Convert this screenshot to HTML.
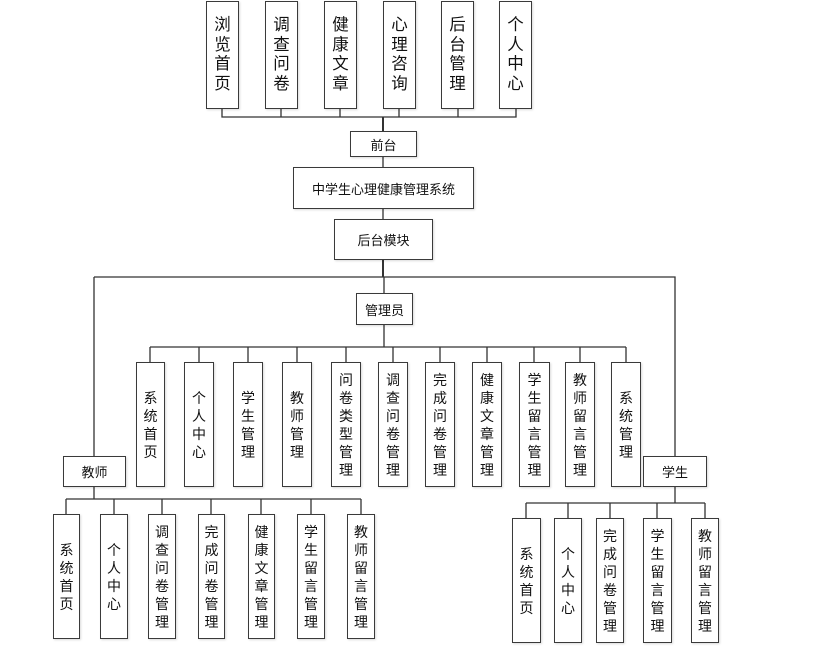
<!DOCTYPE html>
<html><head><meta charset="utf-8"><style>
body{margin:0;width:824px;height:658px;background:#fff;position:relative;overflow:hidden;font-family:"Liberation Sans","Noto Sans CJK SC",sans-serif;color:#111}
.b{position:absolute;box-sizing:border-box;border:1.5px solid #3a3a3a;background:#fff;display:flex;align-items:center;justify-content:center;box-shadow:1px 1px 2px rgba(0,0,0,.15)}
.v span{display:block;width:1em;font-size:14px;line-height:18px;text-align:center;word-break:break-all}
.t span{font-size:16.5px;line-height:19.5px;width:1em}
.h{font-size:13px}
svg{position:absolute;left:0;top:0}
</style></head><body>
<svg width="824" height="658" stroke="#333" fill="none">
<g stroke-width="1.3">
<path d="M222 109V117H516V109M281 109V117M340 109V117M399 109V117M458 109V117"/>
<path d="M383 117V131M383 157V167M383 209V219"/>
<path d="M383 260V277M94 277H675V456M94 277V456M384 277V293"/>
<path d="M384 325V347M150 347H626M150 347V362M199 347V362M248 347V362M297 347V362M346 347V362M393 347V362M440 347V362M487 347V362M534 347V362M580 347V362M626 347V362"/>
<path d="M94 487V499M66 499H361M66 499V514M114 499V514M162 499V514M211 499V514M261 499V514M311 499V514M361 499V514"/>
<path d="M675 487V503M526 503H705M526 503V518M568 503V518M610 503V518M657 503V518M705 503V518"/>
</g>
<path d="M383 117V131M383 260V277" stroke-width="2"/>
</svg>
<div class="b v t" style="left:206px;top:1px;width:33px;height:108px"><span>浏览首页</span></div>
<div class="b v t" style="left:265px;top:1px;width:33px;height:108px"><span>调查问卷</span></div>
<div class="b v t" style="left:324px;top:1px;width:33px;height:108px"><span>健康文章</span></div>
<div class="b v t" style="left:383px;top:1px;width:33px;height:108px"><span>心理咨询</span></div>
<div class="b v t" style="left:441px;top:1px;width:33px;height:108px"><span>后台管理</span></div>
<div class="b v t" style="left:499px;top:1px;width:33px;height:108px"><span>个人中心</span></div>
<div class="b h" style="left:350px;top:131px;width:67px;height:26px">前台</div>
<div class="b h" style="left:293px;top:167px;width:181px;height:42px">中学生心理健康管理系统</div>
<div class="b h" style="left:334px;top:219px;width:99px;height:41px">后台模块</div>
<div class="b h" style="left:356px;top:293px;width:57px;height:32px">管理员</div>
<div class="b v" style="left:136px;top:362px;width:29px;height:125px"><span>系统首页</span></div>
<div class="b v" style="left:184px;top:362px;width:30px;height:125px"><span>个人中心</span></div>
<div class="b v" style="left:233px;top:362px;width:30px;height:125px"><span>学生管理</span></div>
<div class="b v" style="left:282px;top:362px;width:30px;height:125px"><span>教师管理</span></div>
<div class="b v" style="left:331px;top:362px;width:30px;height:125px"><span>问卷类型管理</span></div>
<div class="b v" style="left:378px;top:362px;width:30px;height:125px"><span>调查问卷管理</span></div>
<div class="b v" style="left:425px;top:362px;width:30px;height:125px"><span>完成问卷管理</span></div>
<div class="b v" style="left:472px;top:362px;width:30px;height:125px"><span>健康文章管理</span></div>
<div class="b v" style="left:519px;top:362px;width:31px;height:125px"><span>学生留言管理</span></div>
<div class="b v" style="left:565px;top:362px;width:30px;height:125px"><span>教师留言管理</span></div>
<div class="b v" style="left:611px;top:362px;width:30px;height:125px"><span>系统管理</span></div>
<div class="b h" style="left:63px;top:456px;width:63px;height:31px">教师</div>
<div class="b h" style="left:643px;top:456px;width:64px;height:31px">学生</div>
<div class="b v" style="left:53px;top:514px;width:27px;height:125px"><span>系统首页</span></div>
<div class="b v" style="left:100px;top:514px;width:28px;height:125px"><span>个人中心</span></div>
<div class="b v" style="left:148px;top:514px;width:28px;height:125px"><span>调查问卷管理</span></div>
<div class="b v" style="left:198px;top:514px;width:27px;height:125px"><span>完成问卷管理</span></div>
<div class="b v" style="left:248px;top:514px;width:27px;height:125px"><span>健康文章管理</span></div>
<div class="b v" style="left:297px;top:514px;width:28px;height:125px"><span>学生留言管理</span></div>
<div class="b v" style="left:347px;top:514px;width:28px;height:125px"><span>教师留言管理</span></div>
<div class="b v" style="left:512px;top:518px;width:29px;height:125px"><span>系统首页</span></div>
<div class="b v" style="left:554px;top:518px;width:28px;height:125px"><span>个人中心</span></div>
<div class="b v" style="left:596px;top:518px;width:28px;height:125px"><span>完成问卷管理</span></div>
<div class="b v" style="left:643px;top:518px;width:29px;height:125px"><span>学生留言管理</span></div>
<div class="b v" style="left:691px;top:518px;width:28px;height:125px"><span>教师留言管理</span></div>
</body></html>
